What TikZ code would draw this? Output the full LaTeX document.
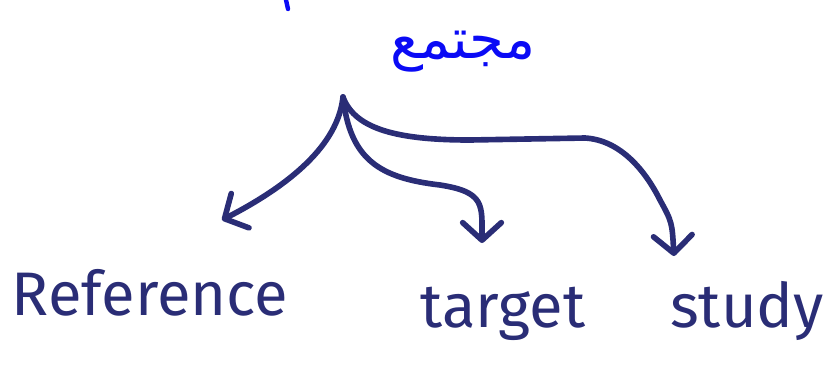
\documentclass[tikz,border=0pt]{standalone}
\usepackage{fontspec}
\newfontfamily\handfont{Fira Sans}
\newfontfamily\arabicfont[Script=Arabic]{DejaVu Sans}
\TeXXeTstate=1
\usetikzlibrary{arrows.meta}
\definecolor{ink}{RGB}{42,45,118}
\definecolor{pen}{RGB}{10,10,245}

\begin{document}
\begin{tikzpicture}[x=0.02cm,y=-0.02cm,>={Straight Barb[length=10pt,width=22pt,round]},
  lbl/.style={font=\handfont\fontsize{35}{40}\selectfont,text=ink,inner sep=0pt,anchor=base},
  arr/.style={->,draw=ink,line width=3.2pt,line cap=round,line join=round}]
  \useasboundingbox (0,0) rectangle (825,383);
  % labels
  \node[text=pen,font=\arabicfont\fontsize{32}{36}\selectfont] (pop) at (463,52) {\beginR مجتمع\endR};
  \node[lbl] (ref) at (150,315) {Reference};
  \node[lbl] (tgt) at (503,327) {target};
  \node[lbl] (stu) at (747,327) {study};
  \coordinate (root) at (343,97);
  \coordinate (reftip) at (222,220);
  \coordinate (tgttip) at (482,243);
  \coordinate (stutip) at (674,256);
  % stray pen mark at the top
  \draw[pen,line width=2.5pt,line cap=round] (286,0) -- (288,9);
  % branches
  \draw[arr] (root) .. controls (338,145) and (290,185) .. (reftip);
  \draw[arr] (root) .. controls (350,160) and (380,178) .. (440,185) .. controls (485,192) and (482,205) .. (tgttip);
  \draw[arr] (root) .. controls (355,130) and (400,140) .. (470,140) -- (585,138) .. controls (620,140) and (645,170) .. (660,200) .. controls (672,222) .. (stutip);
\end{tikzpicture}
\end{document}
